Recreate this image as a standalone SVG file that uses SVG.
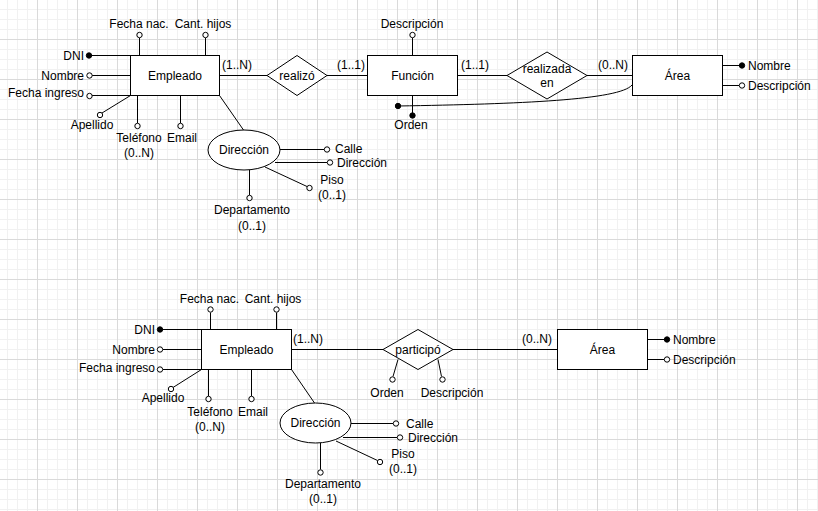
<svg xmlns="http://www.w3.org/2000/svg" width="818" height="511" viewBox="0 0 818 511">
<style>
text{font-family:"Liberation Sans",Arial,sans-serif;font-size:12px;fill:#000}
.m{text-anchor:middle}
.e{text-anchor:end}
.ln{stroke:#000;stroke-width:1;fill:none}
.sh{fill:#fff;stroke:#000;stroke-width:1}
.op{fill:#fff;stroke:#000;stroke-width:1}
.ky{fill:#000;stroke:#000;stroke-width:1}
</style>
<defs>
<pattern id="grid" x="37" y="39" width="40" height="40" patternUnits="userSpaceOnUse">
<path d="M10.5 0V40M20.5 0V40M30.5 0V40M0 10.5H40M0 20.5H40M0 30.5H40" stroke="#f1f1f1" stroke-width="1" fill="none"/>
<path d="M0.5 0V40M0 0.5H40" stroke="#dadada" stroke-width="1" fill="none"/>
</pattern>
</defs>
<rect width="818" height="511" fill="#fff"/>
<rect width="818" height="511" fill="url(#grid)"/>

<g id="connectors">
<!-- top -->
<path class="ln" d="M89 55.5H130.5M92 75.5H130.5M92 95.5H130.5M139.5 38V55.5M205.5 38V55.5M130.5 95.5L102 113M137.5 95.5V123M180.5 95.5V123"/>
<path class="ln" d="M219.5 75.5H267M327 75.5H367.5M412.5 38V55.5M412.5 95.5V115M457.5 75.5H507M587 75.5H632.5"/>
<path class="ln" d="M398 106C520 104 620 100 632 85"/>
<path class="ln" d="M722.5 65.5H742M722.5 85.5H739"/>
<path class="ln" d="M219.5 95.5L243.5 130M280 149.5H324M275 162.5H327M265 167L307 186.5M249.5 170V195"/>
<text x="222" y="69">(1..N)</text>
<text x="337" y="69">(1..1)</text>
<text x="461" y="69">(1..1)</text>
<text x="598" y="69">(0..N)</text>
<!-- bottom -->
<path class="ln" d="M160 329.5H201.5M163 349.5H201.5M163 369.5H201.5M210.5 312.5V329.5M276.5 312.5V329.5M201.5 369.5L173 387.5M208.5 369.5V396M251.5 369.5V396"/>
<path class="ln" d="M291.5 349.5H383M453 349.5H557.5M398 359.5L393 376.5M438 359.5L441.5 376.5M647.5 339.5H667M647.5 359.5H664"/>
<path class="ln" d="M291.5 369.5L314.5 403M351 423.5H393M343 437.5H397M336 441L377.5 460.5M320.5 443V469.5"/>
<text x="293" y="343">(1..N)</text>
<text x="522" y="343">(0..N)</text>
</g>

<!-- TOP DIAGRAM -->
<g id="empleado1"><rect class="sh" x="130.5" y="55.5" width="89" height="40"/><text class="m" x="175" y="79.5">Empleado</text></g>
<g id="e1-dni"><circle class="ky" cx="89" cy="55.5" r="2.7"/><text class="e" x="84" y="59.5">DNI</text></g>
<g id="e1-nombre"><circle class="op" cx="89.5" cy="75.5" r="2.7"/><text class="e" x="84" y="79.5">Nombre</text></g>
<g id="e1-fechaingreso"><circle class="op" cx="89.5" cy="96" r="2.7"/><text class="e" x="84" y="97">Fecha ingreso</text></g>
<g id="e1-fechanac"><circle class="op" cx="139.5" cy="35" r="2.7"/><text class="m" x="139" y="28">Fecha nac.</text></g>
<g id="e1-canthijos"><circle class="op" cx="205.5" cy="35" r="2.7"/><text class="m" x="203" y="28">Cant. hijos</text></g>
<g id="e1-apellido"><circle class="op" cx="100" cy="115" r="2.7"/><text class="m" x="92" y="129">Apellido</text></g>
<g id="e1-telefono"><circle class="op" cx="137.5" cy="126" r="2.7"/><text class="m" x="139" y="142">Teléfono</text><text class="m" x="139" y="157">(0..N)</text></g>
<g id="e1-email"><circle class="op" cx="180.5" cy="126" r="2.7"/><text class="m" x="182" y="142">Email</text></g>

<g id="realizo"><polygon class="sh" points="267,75.5 297,55.5 327,75.5 297,95.5"/><text class="m" x="297" y="79.5">realizó</text></g>

<g id="funcion"><rect class="sh" x="367.5" y="55.5" width="90" height="40"/><text class="m" x="412.5" y="79.5">Función</text></g>
<g id="f-descripcion"><circle class="op" cx="412.5" cy="35" r="2.7"/><text class="m" x="412" y="28">Descripción</text></g>
<g id="f-orden"><circle class="ky" cx="412.5" cy="115.5" r="2.7"/><text class="m" x="411" y="129">Orden</text></g>
<g id="f-orden-area"><circle class="ky" cx="398" cy="106" r="2.7"/></g>

<g id="realizadaen"><polygon class="sh" points="507,75.5 547,52 587,75.5 547,99"/><text class="m" x="547" y="72.5">realizada</text><text class="m" x="547" y="86.5">en</text></g>

<g id="area1"><rect class="sh" x="632.5" y="55.5" width="90" height="40"/><text class="m" x="677.5" y="79.5">Área</text></g>
<g id="a1-nombre"><circle class="ky" cx="742" cy="65.5" r="2.7"/><text x="748" y="69.5">Nombre</text></g>
<g id="a1-descripcion"><circle class="op" cx="742" cy="85.5" r="2.7"/><text x="748" y="89.5">Descripción</text></g>

<g id="direccion1"><ellipse class="sh" cx="244" cy="150" rx="36" ry="20"/><text class="m" x="244" y="153.5">Dirección</text></g>
<g id="d1-calle"><circle class="op" cx="327" cy="149.5" r="2.7"/><text x="335" y="153">Calle</text></g>
<g id="d1-direccion"><circle class="op" cx="330" cy="162.5" r="2.7"/><text x="337" y="166.5">Dirección</text></g>
<g id="d1-piso"><circle class="op" cx="309.5" cy="188" r="2.7"/><text class="m" x="332" y="184">Piso</text><text class="m" x="332" y="199">(0..1)</text></g>
<g id="d1-departamento"><circle class="op" cx="249.5" cy="198" r="2.7"/><text class="m" x="252" y="214">Departamento</text><text class="m" x="252" y="230">(0..1)</text></g>

<!-- BOTTOM DIAGRAM -->
<g id="empleado2"><rect class="sh" x="201.5" y="329.5" width="90" height="40"/><text class="m" x="246.5" y="353.5">Empleado</text></g>
<g id="e2-dni"><circle class="ky" cx="160" cy="329.5" r="2.7"/><text class="e" x="155" y="333.5">DNI</text></g>
<g id="e2-nombre"><circle class="op" cx="160" cy="349.5" r="2.7"/><text class="e" x="155" y="353.5">Nombre</text></g>
<g id="e2-fechaingreso"><circle class="op" cx="160" cy="369.5" r="2.7"/><text class="e" x="155" y="371.5">Fecha ingreso</text></g>
<g id="e2-fechanac"><circle class="op" cx="210.5" cy="309.5" r="2.7"/><text class="m" x="209.5" y="303">Fecha nac.</text></g>
<g id="e2-canthijos"><circle class="op" cx="276.5" cy="309.5" r="2.7"/><text class="m" x="273" y="303">Cant. hijos</text></g>
<g id="e2-apellido"><circle class="op" cx="171" cy="389" r="2.7"/><text class="m" x="163" y="402">Apellido</text></g>
<g id="e2-telefono"><circle class="op" cx="208.5" cy="399" r="2.7"/><text class="m" x="210" y="415.5">Teléfono</text><text class="m" x="210" y="431">(0..N)</text></g>
<g id="e2-email"><circle class="op" cx="251.5" cy="399" r="2.7"/><text class="m" x="253" y="416">Email</text></g>

<g id="participo"><polygon class="sh" points="383,349.5 418,329.5 453,349.5 418,369.5"/><text class="m" x="418" y="353.5">participó</text></g>
<g id="p-orden"><circle class="op" cx="392.5" cy="379.5" r="2.7"/><text class="m" x="387" y="397">Orden</text></g>
<g id="p-descripcion"><circle class="op" cx="442.5" cy="379.5" r="2.7"/><text class="m" x="452" y="397">Descripción</text></g>

<g id="area2"><rect class="sh" x="557.5" y="329.5" width="90" height="40"/><text class="m" x="602.5" y="353.5">Área</text></g>
<g id="a2-nombre"><circle class="ky" cx="667" cy="339.5" r="2.7"/><text x="673" y="343.5">Nombre</text></g>
<g id="a2-descripcion"><circle class="op" cx="667" cy="359.5" r="2.7"/><text x="673" y="363.5">Descripción</text></g>

<g id="direccion2"><ellipse class="sh" cx="315.5" cy="423" rx="35.5" ry="20"/><text class="m" x="315.5" y="427">Dirección</text></g>
<g id="d2-calle"><circle class="op" cx="396" cy="423.5" r="2.7"/><text x="406" y="427.5">Calle</text></g>
<g id="d2-direccion"><circle class="op" cx="400" cy="437.5" r="2.7"/><text x="408" y="441.5">Dirección</text></g>
<g id="d2-piso"><circle class="op" cx="380" cy="462" r="2.7"/><text class="m" x="403" y="458">Piso</text><text class="m" x="403" y="473">(0..1)</text></g>
<g id="d2-departamento"><circle class="op" cx="320.5" cy="472.5" r="2.7"/><text class="m" x="323" y="488">Departamento</text><text class="m" x="323" y="503">(0..1)</text></g>
</svg>
